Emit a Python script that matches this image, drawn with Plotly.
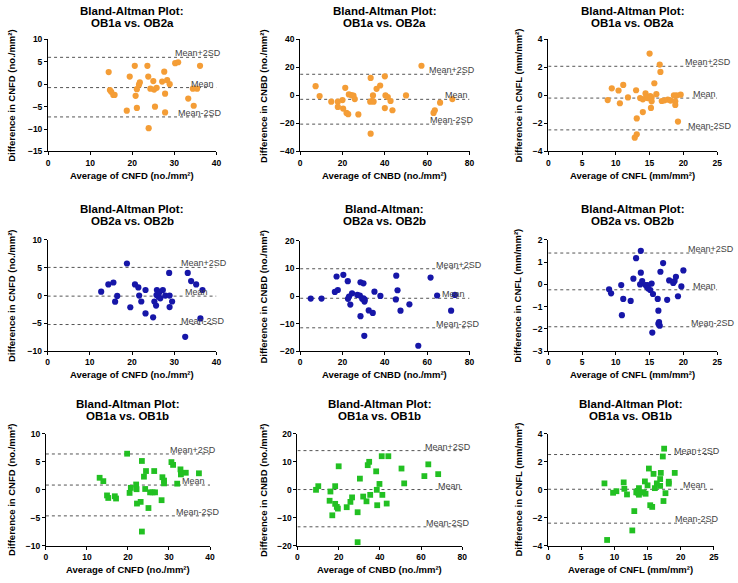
import plotly.graph_objects as go

W, H = 738, 583

# ---------------- data ----------------
p1_x = [14.4,14.7,15.0,15.5,15.8,18.7,19.4,20.6,20.8,21.1,21.1,21.6,21.8,23.6,23.8,23.9,24.3,25.0,25.2,25.4,25.8,27.1,27.6,27.8,27.8,28.3,28.9,30.2,30.9,33.3,34.4,34.6,35.4,36.1]
p1_y = [2.7,-1.3,-1.7,-2.4,-2.4,-5.9,1.7,4.1,-2.6,-1.1,-5.3,-0.1,0.4,4.1,1.7,-9.8,-1.0,0.7,-1.2,-5.0,-0.8,0.6,2.8,-2.1,-6.3,0.9,0.0,4.7,4.9,-3.2,-1.0,-4.8,-1.0,4.1]
p1_stats = [-0.75, 6.0, -7.3]

p2_x = [7.3,9.2,14.7,17.8,17.8,20.0,20.3,21.3,21.9,22.7,23.0,24.2,25.2,25.8,27.5,33.1,33.3,33.3,33.9,34.4,34.7,36.1,37.8,40.0,40.0,40.3,41.4,42.7,43.6,50.0,57.3,63.0,63.6,66.1,71.9]
p2_y = [6.6,-0.5,-4.5,-4.5,-8.2,-3.3,-9.4,5.4,-12.5,-13.4,0.7,0.2,-0.2,-2.6,-13.6,-4.5,12.5,-27.3,-4.0,0.0,-4.5,4.7,7.1,13.6,-9.0,0.0,-1.2,-4.0,-10.6,0.0,21.2,-12.5,-10.6,-5.2,-2.6]
p2_stats = [-2.8, 15.1, -20.5]

p3_x = [8.8,9.4,10.4,10.6,11.1,11.8,12.8,13.0,13.1,13.1,13.6,14.0,14.0,14.4,14.5,14.7,15.0,15.1,15.2,15.3,15.3,15.7,16.0,16.5,16.6,16.8,17.2,17.7,18.1,18.6,18.8,18.8,19.0,19.2,19.6]
p3_y = [-0.33,0.51,0.35,-0.56,0.75,-0.14,-3.02,0.37,-1.64,-2.78,-0.19,-1.19,-0.28,0.14,-0.14,-0.19,2.99,-0.05,-0.89,-0.16,-0.42,0.87,0.09,2.2,1.68,-0.40,-0.35,-0.30,-0.37,0.0,-0.42,-0.68,0.0,-1.87,0.05]
p3_stats = [-0.19, 2.08, -2.46]

p4_x = [12.7,14.4,15.6,16.0,16.5,18.8,19.6,20.7,21.5,21.7,22.2,23.2,23.2,25.0,25.3,25.7,25.8,25.9,26.3,26.5,26.7,27.3,27.9,28.8,28.9,28.9,29.5,32.6,33.2,34.0,35.2,36.2,36.7]
p4_y = [0.7,2.0,2.35,-1.1,-0.06,5.76,-2.1,2.0,1.47,0.0,-1.06,1.0,-3.2,-3.9,-1.06,-1.8,0.1,1.0,-0.2,0.6,-0.5,1.0,0.0,4.06,0.0,-2.06,-1.06,-7.4,4.06,2.6,2.0,-4.1,1.0]
p4_stats = [-0.1, 5.06, -5.2]

p5_x = [5.0,10.1,16.4,17.2,17.8,20.4,22.5,22.6,23.1,23.7,24.5,27.0,28.2,28.5,28.5,29.9,29.3,29.9,30.4,30.5,30.3,32.4,34.3,35.1,37.9,45.4,45.2,46.0,47.4,51.6,55.8,61.6,64.7,71.3,73.1]
p5_y = [-0.9,-0.9,1.5,7.1,2.2,7.7,5.4,-1.0,-0.2,-3.1,1.0,0.4,0.2,-7.3,5.0,4.6,-1.0,-0.8,-2.0,-1.3,-14.4,-5.2,-6.1,1.6,0.06,7.4,-1.2,2.1,-5.3,-3.0,-18.0,6.7,0.2,-5.3,0.4]
p5_stats = [-0.8, 9.9, -11.5]

p6_x = [9.0,9.3,10.8,10.9,11.1,12.2,12.6,13.0,13.7,13.7,13.6,13.9,14.4,14.6,14.7,14.8,15.1,15.3,15.4,15.5,16.2,16.3,16.3,16.5,16.4,16.6,17.0,17.6,17.9,18.5,18.7,18.9,19.2,19.7,20.0]
p6_y = [-0.22,-0.4,-0.03,-1.38,-0.65,-0.74,0.26,1.18,1.51,0.53,0.0,0.15,-0.03,-0.1,-0.03,-0.18,-0.25,0.04,-2.16,-0.43,-0.65,-1.18,-1.76,-1.85,-1.69,0.57,0.96,-0.69,0.18,0.07,0.15,0.34,-0.53,-0.09,0.63]
p6_stats = [-0.24, 1.41, -1.9]

p7_x = [13.1,14.0,14.9,15.2,16.8,17.1,19.8,20.4,20.7,22.0,22.1,22.2,23.1,23.4,23.9,24.2,24.4,25.0,23.4,25.4,26.0,26.6,26.4,28.2,28.4,28.8,28.8,30.6,31.0,32.0,32.8,32.9,34.1,37.3]
p7_y = [2.1,1.5,-1.05,-1.5,-1.2,-1.6,6.4,-0.6,0.3,0.9,0.06,-2.5,-2.2,5.1,2.3,0.1,3.3,-3.3,-7.5,-0.5,-0.5,-0.5,3.3,-1.9,2.2,1.6,1.1,4.9,4.4,1.05,3.6,2.7,3.0,2.9]
p7_stats = [0.8, 6.35, -4.7]

p8_x = [9.0,10.1,15.6,16.0,16.9,18.3,18.3,19.1,19.6,20.0,23.9,25.7,26.5,29.2,29.2,30.3,31.9,33.5,34.1,34.8,35.3,38.2,38.5,38.7,39.8,40.9,41.2,43.3,44.1,50.5,51.8,61.6,63.5,68.3]
p8_y = [-0.1,1.2,-4.0,-0.7,-9.2,1.2,-5.1,-6.2,-6.8,8.3,-6.3,-4.4,-2.8,-8.1,-18.8,3.9,-2.5,-4.2,8.7,9.9,-1.9,6.5,-0.1,-5.6,2.0,11.9,-1.9,-5.0,11.9,7.5,2.2,4.8,9.0,5.5]
p8_stats = [0.0, 13.9, -13.3]

p9_x = [8.5,8.9,9.8,10.3,11.4,11.5,11.9,13.0,12.7,13.3,13.5,13.7,13.6,13.7,14.0,14.4,14.6,14.7,15.0,15.2,15.4,15.7,15.9,16.1,16.4,16.9,16.9,17.0,17.3,17.5,17.4,17.7,18.2,18.2,19.1]
p9_y = [0.44,-3.6,-0.23,-0.12,0.51,0.05,-0.35,-1.54,-2.92,-0.2,-0.1,0.1,-0.26,-0.37,-0.2,-0.2,0.58,-0.3,0.3,1.5,-1.12,-1.24,1.12,0.1,0.44,0.75,0.26,1.19,2.36,2.92,-0.82,-0.26,0.42,0.56,1.19]
p9_stats = [0.02, 2.5, -2.4]

titles_l1 = ["Bland-Altman Plot:"] * 4 + ["Bland-Altman:"] + ["Bland-Altman Plot:"] * 4
titles_l2 = ["OB1a vs. OB2a"] * 3 + ["OB2a vs. OB2b"] * 3 + ["OB1a vs. OB1b"] * 3
ytitles = ["Difference in CNFD (no./mm²)", "Difference in CNBD (no./mm²)", "Difference in CNFL (mm/mm²)"]
xtitles = ["Average of CNFD (no./mm²)", "Average of CNBD (no./mm²)", "Average of CNFL (mm/mm²)"]
stat_labels = ["Mean", "Mean+2SD", "Mean-2SD"]

x_ranges = [[0, 40], [0, 80], [0, 25]] * 3
x_dticks = [10, 20, 5] * 3
y_ranges = [[-15, 10], [-40, 40], [-4, 4], [-10, 10], [-20, 20], [-3, 2], [-10, 10], [-20, 20], [-4, 4]]
y_dticks = [5, 20, 2, 5, 10, 1, 5, 10, 2]

# ---------------- layout geometry (pixels) ----------------
# plot area: left, right, top, bottom
boxes = [
    (46.5, 216.5, 35, 149), (301, 472, 35, 149), (551.5, 722, 35, 149),
    (46, 216.5, 239, 352.3), (301, 472, 240, 352.3), (551.5, 722, 239, 352.3),
    (44.3, 210, 436, 550), (298.3, 464.7, 436, 550), (551.3, 718.7, 436, 550),
]
title_y = [(6, 18), (208, 220), (406, 418)]
ytitle_x = [9.5, 264, 521]
xtitle_off = 24
# label left pixel positions: mean, +2SD, -2SD
label_left = [
    (189, 173, 176), (445, 429, 430), (696, 688, 691),
    (183, 179, 179), (442, 436, 436), (696, 691, 694),
    (180, 168, 174), (438, 425, 426), (685, 676, 677),
]

colors = ["#F49D36"] * 3 + ["#1616A8"] * 3 + ["#22C022"] * 3
symbols = ["circle"] * 6 + ["square"] * 3
sizes = [6.2] * 6 + [5.8] * 3

xs = [p1_x, p2_x, p3_x, p4_x, p5_x, p6_x, p7_x, p8_x, p9_x]
ys = [p1_y, p2_y, p3_y, p4_y, p5_y, p6_y, p7_y, p8_y, p9_y]
stats = [p1_stats, p2_stats, p3_stats, p4_stats, p5_stats, p6_stats, p7_stats, p8_stats, p9_stats]

FONT = "Liberation Sans, Arial, Helvetica, sans-serif"

fig = go.Figure()
layout = dict(
    width=W, height=H, margin=dict(l=0, r=0, t=0, b=0),
    paper_bgcolor="white", plot_bgcolor="white", showlegend=False,
    font=dict(family=FONT, color="black", size=10),
)
annotations = []

for i in range(9):
    ax = "" if i == 0 else str(i + 1)
    xa, ya = "x" + ax, "y" + ax
    l, r, t, b = boxes[i]
    row, col = i // 3, i % 3
    axis_common = dict(
        showline=True, linecolor="black", linewidth=1, ticks="outside", ticklen=3,
        tickwidth=1, tickcolor="black", showgrid=False, zeroline=False,
        tickfont=dict(family=FONT, size=8.5, color="black", weight="bold"),
        fixedrange=True,
    )
    layout["xaxis" + ax] = dict(axis_common, domain=[l / W, r / W], anchor=ya,
                                range=x_ranges[i], dtick=x_dticks[i], tick0=0)
    layout["yaxis" + ax] = dict(axis_common, domain=[1 - b / H, 1 - t / H], anchor=xa,
                                range=y_ranges[i], dtick=y_dticks[i], tick0=0)

    # dotted mean / limit lines
    for s in stats[i]:
        fig.add_trace(go.Scatter(x=x_ranges[i], y=[s, s], xaxis=xa, yaxis=ya, mode="lines",
                                 line=dict(color="#555555", width=1, dash="dot"),
                                 hoverinfo="skip"))
    # points
    fig.add_trace(go.Scatter(x=xs[i], y=ys[i], xaxis=xa, yaxis=ya, mode="markers",
                             marker=dict(color=colors[i], symbol=symbols[i], size=sizes[i],
                                         line=dict(width=0)),
                             cliponaxis=False))
    # stat labels
    for k, s in enumerate(stats[i]):
        annotations.append(dict(
            x=label_left[i][k] / W, xref="paper", xanchor="left",
            y=s, yref=ya, yanchor="bottom", yshift=-3,
            text=stat_labels[k], showarrow=False,
            font=dict(family=FONT, size=9, color="#444444"),
        ))
    cx = (l + r) / 2
    # titles
    for j, txt in enumerate((titles_l1[i], titles_l2[i])):
        annotations.append(dict(
            x=cx / W, xref="paper", xanchor="center",
            y=1 - title_y[row][j] / H, yref="paper", yanchor="middle",
            text=txt, showarrow=False,
            font=dict(family=FONT, size=11.5, color="black", weight="bold"),
        ))
    # axis titles
    annotations.append(dict(
        x=cx / W, xref="paper", xanchor="center",
        y=1 - (b + xtitle_off) / H, yref="paper", yanchor="middle",
        text=xtitles[col], showarrow=False,
        font=dict(family=FONT, size=9.5, color="black", weight="bold"),
    ))
    annotations.append(dict(
        x=ytitle_x[col] / W, xref="paper", xanchor="center",
        y=1 - (t + b) / 2 / H, yref="paper", yanchor="middle",
        text=ytitles[col], showarrow=False, textangle=-90,
        font=dict(family=FONT, size=9.5, color="black", weight="bold"),
    ))

layout["annotations"] = annotations
fig.update_layout(**layout)
fig.write_html("out.html", config={"displayModeBar": False},
               post_script="document.body.style.margin='0';document.body.style.overflow='hidden';")
